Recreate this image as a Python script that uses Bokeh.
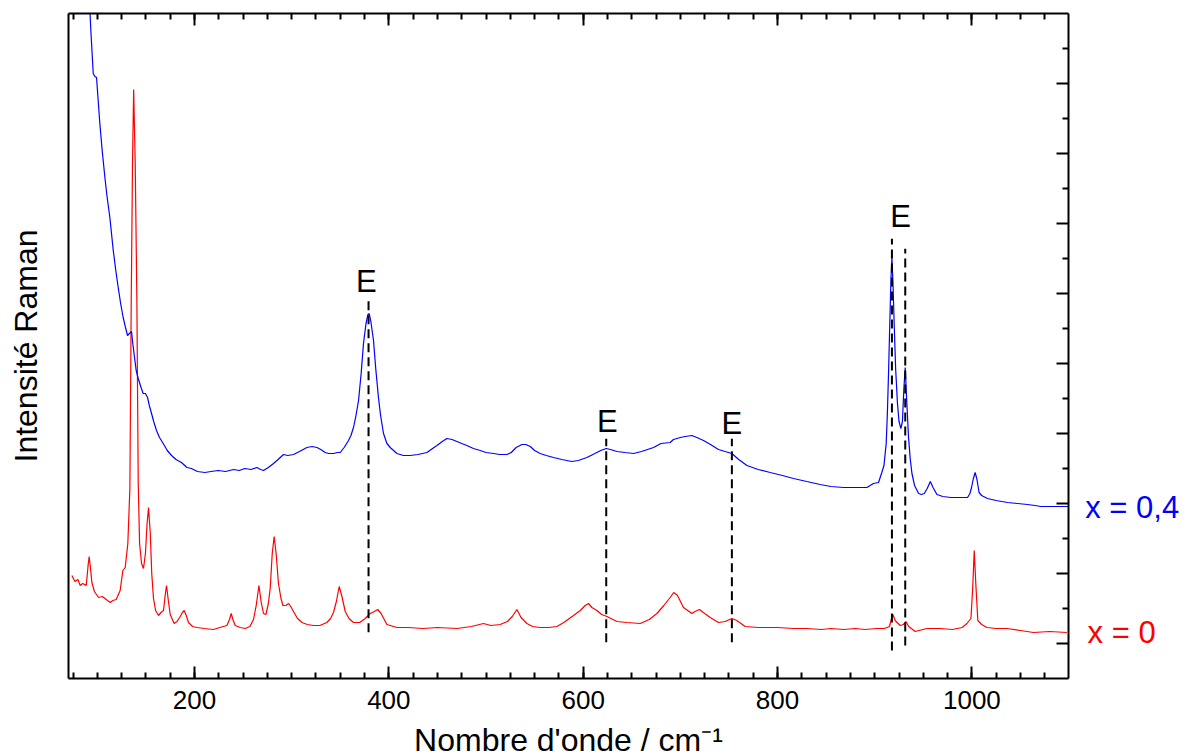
from bokeh.plotting import figure
from bokeh.models import LinearAxis, FixedTicker
from bokeh.layouts import row
from bokeh.core.properties import value
from bokeh.embed import file_html
from bokeh.resources import INLINE

# ---------------- data ----------------
# x = 0 spectrum (red)
wn_red = [73.8, 77, 80, 82.4, 85, 88.6, 90.5, 91.6, 93, 94.4, 97, 101.2, 105, 108, 110.5, 113.3, 116, 119.4,
          123.5, 126.3, 128.7, 131.4, 133.5, 134.9, 136.2, 137.4, 139.0, 140.7, 142.1, 143.5, 145.5, 147.5,
          149.5, 151.2, 152.7, 154.5, 156, 157.8, 160, 163, 165.5, 168.1, 169.8, 171.2, 172.8, 175, 179.1,
          182, 185.3, 187.5, 189.4, 191.5, 193.8, 198, 202.5, 210, 219.5, 226, 233.3, 236, 237.8, 239.5,
          241.9, 247, 252.2, 257, 260.7, 263.5, 266.3, 268.5, 271, 273.5, 276, 277.9, 280, 282, 284, 286.4,
          289, 291, 294, 296.8, 299, 301.9, 306, 310.6, 316, 322.5, 329, 336.2, 340, 343, 346, 348.9, 351.5,
          355.1, 359, 363.6, 370, 375.7, 380.8, 385, 388.7, 392, 398, 408.3, 420, 435, 450, 470, 485, 497.4,
          505, 514.6, 522, 527, 531.8, 536, 542, 548, 555.7, 565, 572.9, 580, 590, 597, 602, 605.5, 609,
          614.1, 619, 624.4, 634.7, 645, 658.7, 668, 675.8, 683, 689.5, 693.1, 697, 703.2, 711.8, 715, 719.7,
          725, 730.7, 739.2, 746, 753, 758, 766.7, 780, 800, 816.4, 830, 845, 855, 867.9, 880, 890, 902.2,
          910, 915.2, 917, 918.7, 921, 926.2, 929.5, 932.1, 935, 941.6, 953.7, 967.4, 980, 990, 994.9, 999,
          1000.8, 1002.4, 1004, 1006.1, 1010, 1015.4, 1025, 1036, 1050, 1063.4, 1080, 1097.7]
int_red = [68, 62, 64, 58, 60, 58, 78, 87, 75, 61, 52, 46, 47, 45, 43, 41, 43, 44,
           53, 73, 76, 100, 155, 343, 480, 554, 480, 343, 160, 100, 80, 75,
           90, 120, 136, 110, 70, 45, 33, 28, 31, 33, 48, 58, 45, 29, 20,
           22, 27, 31, 33, 28, 21, 17, 16, 15, 14, 16, 18, 24, 30, 24,
           18, 16, 15, 17, 24, 38, 58, 42, 30, 29, 40, 55, 90, 107, 90, 60,
           45, 38, 38, 40, 37, 32, 25, 21, 19, 18, 18, 21, 25, 31, 42, 57, 48,
           32, 25, 21, 21, 25, 30, 32, 34, 30, 19, 16, 16, 15, 16, 15, 17, 20,
           18, 19, 22, 27, 34, 26, 20, 17, 16, 16, 17, 21, 28, 33, 38, 40, 36,
           33, 29, 27, 22, 21, 20, 24, 30, 38, 46, 51, 48, 36, 30, 32, 34,
           30, 26, 21, 22, 25, 23, 17, 16, 16, 15, 15, 14, 15, 14, 15, 14, 15,
           15, 17, 24, 29, 23, 18, 19, 22, 17, 12, 15, 15, 14, 16, 20, 25,
           55, 93, 60, 23, 19, 16, 15, 15, 13, 11, 12, 11]

# x = 0,4 spectrum (blue)
wn_blue = [91.7, 93.5, 95.8, 97.5, 99.2, 100, 102.6, 105, 107.8, 110, 112.9, 116.4, 119, 121.5, 124, 126.6,
           129, 131.1, 133, 135.2, 136.5, 138.7, 140, 142.1, 145, 147.2, 149.5, 151.7, 153.5, 155.8, 158,
           160.9, 164, 167.8, 172, 176.4, 181, 186.6, 192.2, 196.9, 203, 210.7, 217, 224.4, 232, 240.2, 246,
           251.9, 258, 264.2, 268, 271, 276, 281.3, 286, 291.6, 296, 301.9, 308, 315.7, 321, 326, 330, 334.5,
           338, 343, 347, 350, 354, 358.5, 361, 363.6, 366, 368.8, 371.5, 373.9, 376.5, 378.5, 379.8, 381.5,
           384.2, 386.5, 389.3, 391.5, 394.5, 398, 401.4, 408.3, 415, 422, 430, 439.2, 445, 449.5, 455, 459.7,
           465, 470, 475, 480.3, 487, 494, 500, 507.7, 514, 521.5, 526, 531, 536.9, 541, 545.5, 550, 555.7,
           562, 569.4, 578, 588.4, 595, 603.8, 612, 618, 623.7, 628, 634.7, 643, 651.8, 660, 672.4, 680,
           689.5, 692.9, 700, 705, 711.8, 717, 723.8, 731, 739.2, 746, 753, 760, 768.5, 780, 792.4, 805,
           816.4, 830, 843.9, 855, 867.9, 880, 891.9, 898.7, 903.9, 907.3, 909.5, 911.8, 913, 914.2, 915.5,
           916.7, 917.7, 918.8, 920, 921.5, 923.4, 925, 926.9, 928.5, 930, 931.4, 932.8, 934.8, 936.5, 938.3,
           941, 945.1, 948, 951, 954, 957.2, 960, 964, 970, 978.4, 986, 995.5, 998, 999.6, 1001.5, 1003.3,
           1005, 1007.4, 1010, 1016, 1025, 1036.6, 1047, 1057.2, 1065, 1070.9, 1080, 1090, 1099.4]
int_blue = [646, 610, 570, 567, 566, 555, 520, 493, 466, 447, 426, 393, 373, 356, 340, 326,
            316, 308, 310, 312, 300, 283, 273, 265, 256, 250, 250, 246, 238, 230, 222,
            213, 206, 200, 193, 188, 184, 181, 176, 175, 172, 171, 172, 173, 172, 174, 173,
            175, 174, 176, 174, 173, 176, 180, 184, 189, 188, 189, 192, 196, 197, 196, 194, 191,
            190, 190, 191, 191, 196, 203, 208, 216, 227, 243, 270, 300, 320, 329, 330, 322,
            303, 275, 246, 228, 210, 200, 196, 190, 188, 188, 189, 191, 195, 198, 202, 205,
            204, 202, 200, 198, 195, 193, 191, 190, 189, 189, 191, 196, 199, 199, 197, 193, 190,
            188, 186, 184, 182, 183, 186, 190, 193, 195, 194, 192, 191, 190, 192, 196, 200,
            201, 204, 206, 207, 208, 206, 203, 199, 194, 192, 190, 184, 178, 174, 171, 168,
            165, 162, 159, 157, 156, 156, 156, 160, 161, 171, 178, 200, 230, 270, 320,
            365, 386, 360, 320, 275, 240, 222, 215, 222, 255, 276, 245, 206, 185, 170,
            158, 150, 149, 150, 155, 162, 156, 149, 147, 146, 146, 146, 150, 156, 165, 171,
            165, 151, 148, 145, 143, 141, 140, 139, 138, 137, 137, 137, 137]

# "E" mode markers
e_pos = [379.1, 623.7, 753.0, 917.7, 931.4]
e_bottom = [11.3, 1.3, 1.3, -7.0, -2.0]
e_top = [343.7, 204.7, 204.7, 404.7, 394.7]
e_label_x = [376.9, 624.9, 753.0, 926.5]
e_label_y = [362.0, 222.0, 220.0, 427.0]
e_text = ["E", "E", "E", "E"]

# series labels (right of the frame)
series_names = ["x = 0,4", "x = 0"]
series_colors = ["#0000ff", "#ff0000"]
series_label_x = [1116.6, 1119.0]
series_label_y = [136.0, 11.5]

x_major = [200, 400, 600, 800, 1000]
x_minor = list(range(75, 1100, 25))
y_major = [0, 70, 140, 210, 280, 350, 420, 490, 560]
y_minor = [35, 105, 175, 245, 315, 385, 455, 525, 595]

FONT = "Liberation Sans"
PX_PER_WN = 1000 / (1099.4 - 70.34)
RIGHT_BORDER = 10
SIDE_W = 108

p = figure(frame_width=1000, frame_height=665, x_range=(70.34, 1099.4), y_range=(-35, 630),
           output_backend="svg", toolbar_location=None,
           min_border_left=68, min_border_right=RIGHT_BORDER, min_border_top=13, min_border_bottom=75,
           background_fill_color="white", border_fill_color="white", outline_line_color=None)
p.xgrid.visible = False
p.ygrid.visible = False

def style_axis(ax, ticks, minor, labels=True):
    ax.ticker = FixedTicker(ticks=ticks, minor_ticks=minor)
    ax.axis_line_width = 2
    ax.axis_line_color = "black"
    ax.major_tick_in = 12
    ax.major_tick_out = 0
    ax.minor_tick_in = 6
    ax.minor_tick_out = 0
    ax.major_tick_line_width = 2
    ax.minor_tick_line_width = 2
    ax.major_tick_line_color = "black"
    ax.minor_tick_line_color = "black"
    if labels:
        ax.major_label_text_font = FONT
        ax.major_label_text_font_size = "26px"
        ax.major_label_text_color = "black"
    else:
        ax.major_label_text_font_size = "1px"
        ax.major_label_text_color = None
        ax.major_label_standoff = 0

# bottom axis
xa = p.xaxis[0]
style_axis(xa, x_major, x_minor)
xa.major_label_standoff = 12
xa.axis_label = "Nombre d'onde / cm\u207b\u00b9"
xa.axis_label_text_font = FONT
xa.axis_label_text_font_size = "32px"
xa.axis_label_text_font_style = "normal"
xa.axis_label_text_color = "black"
xa.axis_label_standoff = 10

# left axis (line only)
ya = p.yaxis[0]
ya.ticker = FixedTicker(ticks=[])
ya.axis_line_width = 2
ya.axis_line_color = "black"
ya.major_tick_out = 0
ya.major_tick_in = 0
ya.minor_tick_out = 0
ya.minor_tick_in = 0
ya.major_label_text_font_size = "1px"
ya.major_label_text_color = None
ya.major_label_standoff = 0
ya.axis_label = "Intensité Raman"
ya.axis_label_text_font = FONT
ya.axis_label_text_font_size = "32px"
ya.axis_label_text_font_style = "normal"
ya.axis_label_text_color = "black"
ya.axis_label_standoff = 25

top = LinearAxis()
style_axis(top, x_major, x_minor, labels=False)
p.add_layout(top, "above")

right = LinearAxis()
style_axis(right, y_major, y_minor, labels=False)
p.add_layout(right, "right")

# spectra
p.line(wn_red, int_red, line_color="#ff0000", line_width=1.2)
p.line(wn_blue, int_blue, line_color="#0000ff", line_width=1.2)

# E markers
p.segment(x0=e_pos, y0=e_bottom, x1=e_pos, y1=e_top, line_color="black", line_width=2, line_dash="9 5")
p.text(x=e_label_x, y=e_label_y, text=e_text, text_font=value(FONT), text_font_size="31px",
       text_align="center", text_baseline="alphabetic", text_color="black")

# side panel continuing the wavenumber scale, for the series labels
side_start = 1099.4 + RIGHT_BORDER / PX_PER_WN
side_end = side_start + SIDE_W / PX_PER_WN
p2 = figure(frame_width=SIDE_W, frame_height=665, x_range=(side_start, side_end), y_range=p.y_range,
            output_backend="svg", toolbar_location=None, x_axis_location=None, y_axis_location=None,
            min_border_left=0, min_border_right=0, min_border_top=13, min_border_bottom=75,
            background_fill_color="white", border_fill_color="white", outline_line_color=None)
p2.xgrid.visible = False
p2.ygrid.visible = False
p2.text(x=series_label_x, y=series_label_y, text=series_names, text_color=series_colors,
        text_font=value(FONT), text_font_size="31px", text_align="left", text_baseline="alphabetic")

layout = row(p, p2, spacing=0)
open("out.html", "w").write(file_html(layout, INLINE))
